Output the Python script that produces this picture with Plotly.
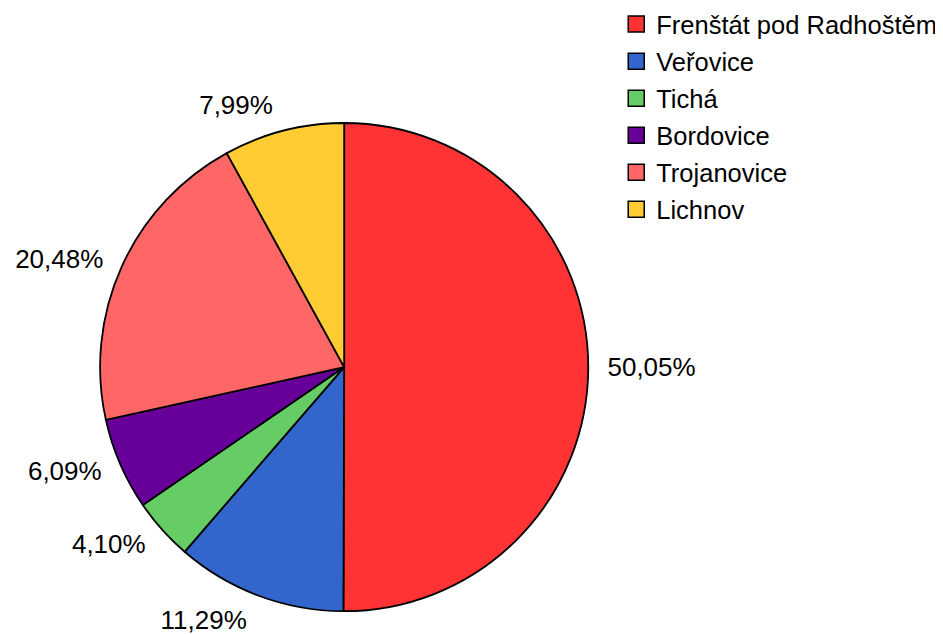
import plotly.graph_objects as go

labels = ["Frenštát pod Radhoštěm", "Veřovice", "Tichá", "Bordovice", "Trojanovice", "Lichnov"]
values = [50.05, 11.29, 4.10, 6.09, 20.48, 7.99]
colors = ["#FF3333", "#3366CC", "#66CC66", "#660099", "#FF6666", "#FFCC33"]
text_labels = [f"{v:.2f}%".replace(".", ",") for v in values]

FONT = "Liberation Sans, Arial, sans-serif"

fig = go.Figure()
# transparent carrier pie, slightly larger, that holds the outside percentage labels
fig.add_trace(go.Pie(
    labels=labels, values=values, sort=False, direction="clockwise", rotation=0,
    marker=dict(colors=["rgba(0,0,0,0)"] * len(values), line=dict(width=0)),
    text=text_labels, textinfo="text", textposition="outside",
    outsidetextfont=dict(size=26, color="black", family=FONT),
    hoverinfo="skip", showlegend=False,
    domain=dict(x=[0.0848, 0.6278], y=[0.0300, 0.8375]),
))
# visible pie
fig.add_trace(go.Pie(
    labels=labels, values=values, sort=False, direction="clockwise", rotation=0,
    marker=dict(colors=colors, line=dict(color="black", width=1.8)),
    textinfo="none", showlegend=False,
    domain=dict(x=[0.0975, 0.6155], y=[0.0486, 0.8186]),
))
for lab, col in zip(labels, colors):
    fig.add_trace(go.Scatter(
        x=[None], y=[None], mode="markers", name=lab, legendgroup=lab,
        marker=dict(symbol="square", size=20, color=col, line=dict(color="black", width=1.5)),
    ))

fig.update_layout(
    width=943, height=634, margin=dict(l=0, r=0, t=0, b=0, autoexpand=False),
    paper_bgcolor="white", plot_bgcolor="white",
    font=dict(family=FONT, size=25.5, color="black"),
    xaxis=dict(visible=False), yaxis=dict(visible=False),
    legend=dict(x=0.645, y=1.011, xanchor="left", yanchor="top", itemsizing="trace",
                xref="paper", yref="paper",
                font=dict(size=25.5), tracegroupgap=0.9, itemwidth=30),
)
fig.write_html("out.html")
